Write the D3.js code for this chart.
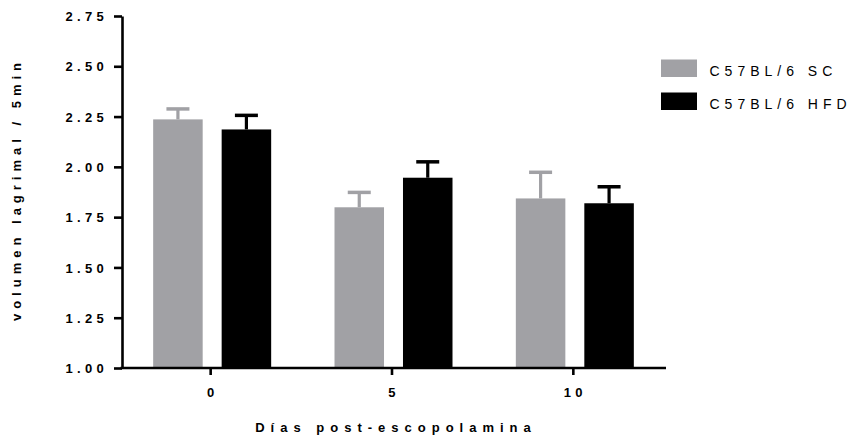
<!DOCTYPE html>
<html>
<head>
<meta charset="utf-8">
<script src="https://cdn.jsdelivr.net/npm/d3@7"></script>
<style>
  html, body { margin: 0; padding: 0; background: #fff; }
  svg { display: block; font-family: Arial, "Liberation Sans", sans-serif; }
</style>
</head>
<body>
<svg id="chart" width="865" height="439"></svg>
<script>
const categories = ["0", "5", "10"];
const seriesNames = ["C57BL/6 SC", "C57BL/6 HFD"];
const scValues = [2.236, 1.799, 1.843];
const scErrors = [0.052, 0.074, 0.130];
const hfdValues = [2.186, 1.946, 1.819];
const hfdErrors = [0.070, 0.079, 0.082];
const yTicks = [1.00, 1.25, 1.50, 1.75, 2.00, 2.25, 2.50, 2.75];
const colors = ["#a1a1a5", "#000000"];

const svg = d3.select("#chart");

const x = d3.scaleBand().domain(categories).range([121.5, 665.5]).padding(0);
const xSub = d3.scaleBand().domain(seriesNames).range([-59, 59]).paddingInner(0.277).paddingOuter(0);
const y = d3.scaleLinear().domain([1, 2.75]).range([368, 16]);

const data = [];
categories.forEach((c, i) => {
  data.push({cat: c, s: seriesNames[0], v: scValues[i], e: scErrors[i], col: colors[0]});
  data.push({cat: c, s: seriesNames[1], v: hfdValues[i], e: hfdErrors[i], col: colors[1]});
});

// Error bars (upper only)
const capW = 23;
const eb = svg.append("g");
data.forEach(d => {
  const cx = x(d.cat) + x.bandwidth() / 2 + xSub(d.s) + xSub.bandwidth() / 2;
  eb.append("line")
    .attr("x1", cx).attr("x2", cx)
    .attr("y1", y(d.v)).attr("y2", y(d.v + d.e))
    .attr("stroke", d.col).attr("stroke-width", 3.2);
  eb.append("line")
    .attr("x1", cx - capW / 2).attr("x2", cx + capW / 2)
    .attr("y1", y(d.v + d.e)).attr("y2", y(d.v + d.e))
    .attr("stroke", d.col).attr("stroke-width", 3.5);
});

// Bars
svg.append("g").selectAll("rect").data(data).join("rect")
  .attr("x", d => x(d.cat) + x.bandwidth() / 2 + xSub(d.s))
  .attr("width", xSub.bandwidth())
  .attr("y", d => y(d.v))
  .attr("height", d => y(1) - y(d.v))
  .attr("fill", d => d.col);

// Y axis
const yAxis = d3.axisLeft(y).tickValues(yTicks).tickFormat(d3.format(".2f")).tickSize(8).tickSizeOuter(0);
const gy = svg.append("g").attr("transform", "translate(122,0)").call(yAxis);
gy.select(".domain").attr("stroke", "#000").attr("stroke-width", 2.6);
gy.selectAll(".tick line").attr("stroke", "#000").attr("stroke-width", 2.6);
gy.selectAll(".tick text")
  .attr("x", -14)
  .attr("dy", "0.36em")
  .attr("fill", "#000")
  .style("font-size", "13px")
  .style("font-weight", "bold")
  .style("letter-spacing", "4.3px")
  .style("font-family", "Arial, 'Liberation Sans', sans-serif");

// X axis
const xAxis = d3.axisBottom(x).tickSize(7).tickSizeOuter(0);
const gx = svg.append("g").attr("transform", "translate(0,368)").call(xAxis);
gx.select(".domain").attr("stroke", "#000").attr("stroke-width", 2.6).attr("d", "M120.5,0H666");
gx.selectAll(".tick").attr("transform", d => `translate(${x(d) + x.bandwidth() / 2 - 1.5},0)`);
gx.selectAll(".tick line").attr("stroke", "#000").attr("stroke-width", 2.6);
gx.selectAll(".tick text")
  .attr("y", 20)
  .attr("dx", "2px")
  .attr("fill", "#000")
  .style("font-size", "13px")
  .style("font-weight", "bold")
  .style("letter-spacing", "4.3px")
  .style("font-family", "Arial, 'Liberation Sans', sans-serif");

// Axis titles
svg.append("text")
  .attr("x", 393 + 3)
  .attr("y", 432)
  .attr("text-anchor", "middle")
  .style("font-size", "13px")
  .style("font-weight", "bold")
  .style("letter-spacing", "6px")
  .text("Días post-escopolamina");

svg.append("text")
  .attr("transform", "translate(21,192) rotate(-90)")
  .attr("x", 2.5)
  .attr("text-anchor", "middle")
  .style("font-size", "13px")
  .style("font-weight", "bold")
  .style("letter-spacing", "5px")
  .text("volumen lagrimal / 5min");

// Legend
const legend = svg.append("g");
seriesNames.forEach((s, i) => {
  const gy0 = 59.5 + i * 33;
  legend.append("rect")
    .attr("x", 661).attr("y", gy0).attr("width", 36).attr("height", 17.5)
    .attr("fill", colors[i]);
  legend.append("text")
    .attr("x", 709.5).attr("y", gy0 + 16)
    .style("font-size", "14px")
    .style("letter-spacing", "5px")
    .attr("fill", "#000")
    .text(s);
});
</script>
</body>
</html>
